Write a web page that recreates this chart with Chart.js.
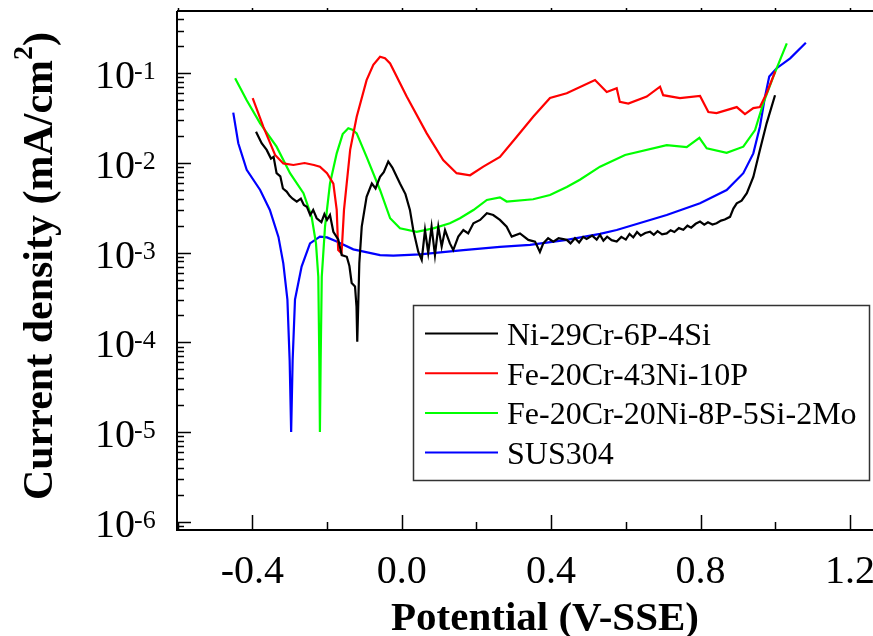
<!DOCTYPE html>
<html lang="en">
<head>
<meta charset="UTF-8">
<title>Polarization curves</title>
<script src="https://cdn.jsdelivr.net/npm/chart.js"></script>
<style>
  body { margin: 0; background: #fff; }
  canvas { display: block; }
</style>
</head>
<body>
<canvas id="chart" width="873" height="636"></canvas>
<script>
// potential (V vs SSE) and current density (mA/cm2)
const niCrV = [-0.39, -0.375, -0.3615, -0.35, -0.343, -0.335, -0.325, -0.318, -0.308, -0.30, -0.292, -0.281, -0.27, -0.262, -0.254, -0.245, -0.237, -0.2276, -0.215, -0.207, -0.20, -0.192, -0.183, -0.17, -0.1606, -0.147, -0.14, -0.134, -0.125, -0.121, -0.119, -0.1165, -0.1135, -0.107, -0.094, -0.08, -0.07, -0.058, -0.048, -0.036, -0.025, -0.0046, 0.01, 0.022, 0.031, 0.0445, 0.0536, 0.0624, 0.071, 0.08, 0.089, 0.098, 0.107, 0.116, 0.129, 0.138, 0.1515, 0.165, 0.178, 0.192, 0.21, 0.228, 0.245, 0.263, 0.281, 0.2945, 0.3167, 0.339, 0.357, 0.37, 0.379, 0.392, 0.406, 0.42, 0.4418, 0.452, 0.464, 0.475, 0.486, 0.495, 0.51, 0.522, 0.531, 0.54, 0.55, 0.562, 0.5756, 0.588, 0.60, 0.61, 0.62, 0.63, 0.64, 0.652, 0.665, 0.675, 0.685, 0.697, 0.7095, 0.72, 0.73, 0.742, 0.754, 0.765, 0.775, 0.787, 0.7987, 0.81, 0.82, 0.832, 0.843, 0.855, 0.865, 0.879, 0.888, 0.897, 0.91, 0.924, 0.9414, 0.959, 0.977, 0.9995];
const niCrI = [2.23e-2, 1.66e-2, 1.40e-2, 1.12e-2, 1.17e-2, 7.7e-3, 7.1e-3, 5.2e-3, 4.8e-3, 4.3e-3, 4.0e-3, 3.7e-3, 4.0e-3, 3.4e-3, 3.26e-3, 2.63e-3, 3.0e-3, 2.42e-3, 2.19e-3, 2.69e-3, 2.32e-3, 2.63e-3, 1.71e-3, 1.41e-3, 9.4e-4, 9.0e-4, 7.1e-4, 4.6e-4, 4.2e-4, 2.5e-4, 1.02e-4, 2.5e-4, 7.6e-4, 1.95e-3, 4.2e-3, 5.9e-3, 5.2e-3, 7.0e-3, 7.9e-3, 1.04e-2, 8.9e-3, 5.9e-3, 4.5e-3, 3.0e-3, 1.79e-3, 1.02e-3, 8.3e-4, 1.79e-3, 1.0e-3, 1.95e-3, 9.4e-4, 1.95e-3, 1.17e-3, 1.79e-3, 1.27e-3, 1.07e-3, 1.51e-3, 1.79e-3, 1.64e-3, 2.13e-3, 2.32e-3, 2.75e-3, 2.63e-3, 2.32e-3, 1.95e-3, 1.51e-3, 1.64e-3, 1.39e-3, 1.33e-3, 1.02e-3, 1.27e-3, 1.45e-3, 1.33e-3, 1.45e-3, 1.39e-3, 1.27e-3, 1.45e-3, 1.30e-3, 1.50e-3, 1.42e-3, 1.55e-3, 1.40e-3, 1.58e-3, 1.36e-3, 1.51e-3, 1.38e-3, 1.33e-3, 1.50e-3, 1.40e-3, 1.62e-3, 1.48e-3, 1.70e-3, 1.55e-3, 1.66e-3, 1.71e-3, 1.58e-3, 1.74e-3, 1.60e-3, 1.64e-3, 1.78e-3, 1.70e-3, 1.88e-3, 1.80e-3, 2.0e-3, 1.90e-3, 2.10e-3, 2.22e-3, 2.05e-3, 2.18e-3, 2.06e-3, 2.13e-3, 2.28e-3, 2.34e-3, 2.51e-3, 3.1e-3, 3.55e-3, 3.8e-3, 4.6e-3, 7.0e-3, 1.40e-2, 2.77e-2, 5.7e-2];

const feNiPV = [-0.399, -0.3706, -0.339, -0.317, -0.29, -0.26, -0.235, -0.219, -0.20, -0.183, -0.174, -0.17, -0.161, -0.1545, -0.138, -0.1205, -0.094, -0.076, -0.058, -0.0447, -0.031, 0.0134, 0.067, 0.111, 0.147, 0.183, 0.2185, 0.263, 0.308, 0.352, 0.397, 0.4418, 0.5175, 0.549, 0.5756, 0.584, 0.6067, 0.656, 0.6916, 0.70, 0.745, 0.7987, 0.821, 0.843, 0.897, 0.919, 0.9414, 0.959, 0.977, 1.0];
const feNiPI = [5.3e-2, 2.54e-2, 1.23e-2, 9.9e-3, 9.5e-3, 1.0e-2, 9.5e-3, 9.1e-3, 7.7e-3, 5.9e-3, 3.0e-3, 1.07e-3, 9.8e-4, 3.0e-3, 1.4e-2, 3.28e-2, 8.4e-2, 0.124, 0.153, 0.147, 0.129, 5.5e-2, 2.14e-2, 1.08e-2, 7.7e-3, 7.3e-3, 9.1e-3, 1.17e-2, 1.96e-2, 3.28e-2, 5.3e-2, 6.0e-2, 8.4e-2, 6.2e-2, 6.8e-2, 4.8e-2, 4.6e-2, 5.5e-2, 7.1e-2, 5.7e-2, 5.3e-2, 5.6e-2, 3.7e-2, 3.6e-2, 4.2e-2, 3.5e-2, 4.1e-2, 4.2e-2, 6.0e-2, 0.105];

const feMoV = [-0.446, -0.415, -0.379, -0.335, -0.299, -0.263, -0.241, -0.2295, -0.2233, -0.2205, -0.219, -0.217, -0.214, -0.2053, -0.192, -0.174, -0.158, -0.143, -0.132, -0.1205, -0.094, -0.058, -0.031, -0.0046, 0.04, 0.0846, 0.129, 0.156, 0.192, 0.228, 0.263, 0.281, 0.352, 0.397, 0.442, 0.477, 0.531, 0.598, 0.7095, 0.763, 0.797, 0.8166, 0.87, 0.9146, 0.946, 0.968, 0.995, 1.013, 1.031];
const feMoI = [8.8e-2, 5.0e-2, 2.77e-2, 1.52e-2, 7.7e-3, 4.6e-3, 2.5e-3, 1.27e-3, 5.4e-4, 6.3e-5, 1.0e-5, 6.3e-5, 5.4e-4, 1.95e-3, 5.9e-3, 1.28e-2, 2.1e-2, 2.44e-2, 2.35e-2, 2.14e-2, 1.17e-2, 5.0e-3, 2.42e-3, 1.87e-3, 1.71e-3, 1.87e-3, 2.13e-3, 2.42e-3, 2.99e-3, 3.87e-3, 4.14e-3, 3.72e-3, 3.94e-3, 4.4e-3, 5.4e-3, 6.5e-3, 9.1e-3, 1.23e-2, 1.58e-2, 1.5e-2, 1.91e-2, 1.46e-2, 1.30e-2, 1.52e-2, 2.33e-2, 4.63e-2, 9.2e-2, 0.141, 0.216];

const susV = [-0.451, -0.4375, -0.415, -0.379, -0.353, -0.33, -0.317, -0.306, -0.30, -0.296, -0.292, -0.2857, -0.268, -0.2455, -0.219, -0.20, -0.174, -0.1295, -0.058, -0.0225, 0.049, 0.165, 0.263, 0.3435, 0.442, 0.531, 0.5756, 0.7095, 0.7987, 0.87, 0.9146, 0.9414, 0.959, 0.9727, 0.984, 1.004, 1.04, 1.082];
const susI = [3.64e-2, 1.66e-2, 8.4e-3, 5.0e-3, 3.0e-3, 1.5e-3, 7.6e-4, 3.0e-4, 6.3e-5, 1.0e-5, 6.3e-5, 3.0e-4, 7.0e-4, 1.27e-3, 1.51e-3, 1.48e-3, 1.33e-3, 1.09e-3, 9.4e-4, 9.3e-4, 9.6e-4, 1.07e-3, 1.16e-3, 1.22e-3, 1.39e-3, 1.62e-3, 1.79e-3, 2.63e-3, 3.55e-3, 5.0e-3, 7.7e-3, 1.28e-2, 2.54e-2, 5.5e-2, 9.2e-2, 0.114, 0.147, 0.219];

const seriesNames = ['Ni-29Cr-6P-4Si', 'Fe-20Cr-43Ni-10P', 'Fe-20Cr-20Ni-8P-5Si-2Mo', 'SUS304'];
const seriesColors = ['#000000', '#ff0000', '#00ff00', '#0000ff'];
const xTickLabels = ['-0.4', '0.0', '0.4', '0.8', '1.2'];
const yDecades = [-6, -5, -4, -3, -2, -1];

const pts = (xs, ys) => xs.map((v, i) => ({ x: v, y: ys[i] }));
const allData = [pts(niCrV, niCrI), pts(feNiPV, feNiPI), pts(feMoV, feMoI), pts(susV, susI)];

const SERIF = '"Liberation Serif", "Times New Roman", serif';

// axes, ticks, labels and legend are drawn by hand so they sit like the original
const frame = {
    id: 'frame',
    afterDraw(chart) {
        const ctx = chart.ctx;
        const area = chart.chartArea;
        const xs = chart.scales.x;
        const ys = chart.scales.y;
        ctx.save();
        ctx.strokeStyle = '#000';
        ctx.fillStyle = '#000';

        // axis lines (left, bottom, top)
        ctx.lineWidth = 2;
        ctx.beginPath();
        ctx.moveTo(area.left, area.top);
        ctx.lineTo(area.left, area.bottom);
        ctx.lineTo(area.right, area.bottom);
        ctx.moveTo(area.left, area.top);
        ctx.lineTo(area.right, area.top);
        ctx.stroke();

        // y ticks (inside)
        ctx.lineWidth = 1.5;
        for (let d = -7; d <= 0; d++) {
            for (let m = 1; m <= 9; m++) {
                const v = m * Math.pow(10, d);
                if (v < ys.min || v > ys.max) continue;
                const py = Math.round(ys.getPixelForValue(v)) + 0.5;
                const len = m === 1 ? 14 : 7;
                ctx.beginPath();
                ctx.moveTo(area.left, py);
                ctx.lineTo(area.left + len, py);
                ctx.stroke();
            }
        }

        // x ticks (bottom inside, top tiny)
        for (let k = -3; k <= 6; k++) {
            const v = k * 0.2;
            if (v < xs.min || v > xs.max) continue;
            const px = Math.round(xs.getPixelForValue(v)) + 0.5;
            const len = (k % 2 === 0) ? 15 : 8;
            ctx.beginPath();
            ctx.moveTo(px, area.bottom);
            ctx.lineTo(px, area.bottom - len);
            ctx.moveTo(px, area.top);
            ctx.lineTo(px, area.top - 3);
            ctx.stroke();
        }

        // x tick labels
        ctx.font = '40px ' + SERIF;
        ctx.textAlign = 'center';
        ctx.textBaseline = 'alphabetic';
        xTickLabels.forEach(t => {
            ctx.fillText(t, xs.getPixelForValue(parseFloat(t)), 583);
        });

        // y tick labels 10^n
        yDecades.forEach(d => {
            const py = ys.getPixelForValue(Math.pow(10, d));
            ctx.font = '40px ' + SERIF;
            ctx.textAlign = 'right';
            ctx.fillText('10', 135, py + 15);
            ctx.font = '26px ' + SERIF;
            ctx.textAlign = 'left';
            ctx.fillText(String(d), 134, py + 6);
        });

        // x title
        ctx.font = 'bold 41px ' + SERIF;
        ctx.textAlign = 'center';
        ctx.fillText('Potential (V-SSE)', 545, 630);

        // y title, rotated, with superscript 2
        ctx.save();
        ctx.translate(52, 266);
        ctx.rotate(-Math.PI / 2);
        ctx.textAlign = 'left';
        const mainTxt = 'Current density (mA/cm';
        ctx.font = 'bold 42px ' + SERIF;
        const w1 = ctx.measureText(mainTxt).width;
        const w3 = ctx.measureText(')').width;
        ctx.font = 'bold 28px ' + SERIF;
        const w2 = ctx.measureText('2').width;
        let x0 = -(w1 + w2 + w3) / 2;
        ctx.font = 'bold 42px ' + SERIF;
        ctx.fillText(mainTxt, x0, 0);
        ctx.font = 'bold 28px ' + SERIF;
        ctx.fillText('2', x0 + w1, -20);
        ctx.font = 'bold 42px ' + SERIF;
        ctx.fillText(')', x0 + w1 + w2, 0);
        ctx.restore();

        // legend box
        ctx.lineWidth = 1.5;
        ctx.strokeStyle = '#333';
        ctx.strokeRect(413.5, 305.5, 456, 175);
        ctx.font = '32px ' + SERIF;
        ctx.textAlign = 'left';
        chart.data.datasets.forEach((ds, i) => {
            const cy = 333.5 + i * 39.7;
            ctx.strokeStyle = ds.borderColor;
            ctx.lineWidth = 2;
            ctx.beginPath();
            ctx.moveTo(425, cy);
            ctx.lineTo(498, cy);
            ctx.stroke();
            ctx.fillStyle = '#000';
            ctx.fillText(ds.label, 507, cy + 11.5);
        });
        ctx.restore();
    }
};

new Chart(document.getElementById('chart'), {
    type: 'line',
    data: {
        datasets: allData.map((d, i) => ({
            label: seriesNames[i],
            data: d,
            borderColor: seriesColors[i],
            backgroundColor: seriesColors[i],
            borderWidth: 2.2,
            pointRadius: 0,
            tension: 0,
            fill: false
        }))
    },
    options: {
        responsive: false,
        animation: false,
        layout: { padding: { left: 177, top: 11, right: 0, bottom: 106 } },
        plugins: { legend: { display: false }, tooltip: { enabled: false } },
        scales: {
            x: { type: 'linear', min: -0.6016, max: 1.2618, display: false },
            y: { type: 'logarithmic', min: 8.1e-7, max: 0.495, display: false }
        }
    },
    plugins: [frame]
});
</script>
</body>
</html>
